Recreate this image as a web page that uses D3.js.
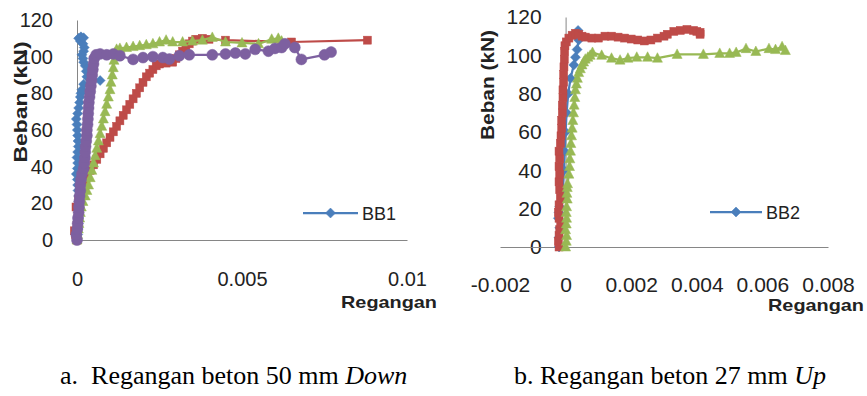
<!DOCTYPE html>
<html>
<head>
<meta charset="utf-8">
<script src="https://cdn.jsdelivr.net/npm/d3@7/dist/d3.min.js"></script>
<style>
  body { margin: 0; background: #fff; }
  svg { display: block; }
  .tick text { font-family: "Liberation Sans", Arial, sans-serif; fill: #222; }
</style>
</head>
<body>
<div id="chart"></div>
<script>
// Shared tick values
var yTicks = [0, 20, 40, 60, 80, 100, 120];
var xTicksA = [0, 0.005, 0.01];
var xTicksB = [-0.002, 0, 0.002, 0.004, 0.006, 0.008];

// Panel a: [strain, load kN]
var blueA = [[0,0],[0.00002,3],[0.00003,6],[0.00004,9],[0.00005,12],[0.00005,15],[0.00004,18],[0.00006,21],[0.00005,24],[0.00003,27],[0.00002,30],[0.00001,33],[-0.00002,36],[0.00001,39],[0.00002,42],[0,45],[0.00002,48],[0.00004,51],[0.00003,54],[0.00002,57],[0.00001,60],[0,63],[-0.00002,66],[0.00002,69],[0.00005,72],[0.00008,75],[0.0001,78],[0.00012,80],[0.00015,82],[0.0002,85],[0.0007,87],[0.0003,89],[0.00028,92],[0.00025,95],[0.0002,97],[0.00018,99],[0.00015,101],[0.0002,103],[0.00022,105],[0.00018,107],[0.0001,108.5],[0.00005,110],[0.00012,110.8],[0.0002,110.3]];
var redA = [[0,0],[-0.00005,3],[-0.00008,5],[0,8],[0.00003,12],[0.00005,16],[-0.00003,18],[0.00005,22],[0.0001,26],[0.00015,29],[0.0002,32],[0.0003,35],[0.0004,38],[0.0005,41],[0.0006,44],[0.0007,47],[0.0008,50],[0.0009,53],[0.001,56],[0.0011,59],[0.0012,62],[0.0013,65],[0.0014,68],[0.0015,71],[0.0016,74],[0.0017,77],[0.0018,80],[0.0019,83],[0.002,86],[0.0021,89],[0.0022,91],[0.0023,93],[0.0024,95],[0.0025,96],[0.0027,96.5],[0.0029,97],[0.003,99],[0.0031,101],[0.0032,103],[0.0033,105],[0.0034,107],[0.0035,108.5],[0.0036,109.5],[0.0038,110],[0.004,109.5],[0.0045,109],[0.0065,108],[0.0088,109]];
var greenA = [[0,0],[0.00002,3],[0.00004,6],[0.00006,9],[0.00008,12],[0.0001,15],[0.00013,18],[0.00018,21],[0.00025,24],[0.0003,27],[0.00035,30],[0.0004,34],[0.00045,38],[0.0005,42],[0.00055,46],[0.0006,50],[0.00065,54],[0.0007,58],[0.00075,62],[0.0008,66],[0.00085,70],[0.0009,74],[0.00095,78],[0.001,82],[0.00103,86],[0.00107,90],[0.0011,94],[0.00112,98],[0.00115,102],[0.0012,104],[0.0013,104.5],[0.0015,105],[0.0017,105.5],[0.0019,106],[0.0021,106.5],[0.0023,107],[0.0025,108],[0.0027,109],[0.0029,108],[0.0032,108],[0.0035,108.5],[0.0038,109],[0.0041,110.5],[0.0045,108],[0.005,107.5],[0.0055,107],[0.0059,109.5],[0.0061,110],[0.0062,108.5]];
var purpleA = [[0,0],[-0.00002,3],[0.00001,6],[0.00002,9],[0.00003,12],[0.00005,15],[0.00006,18],[0.00007,21],[0.00008,24],[0.0001,27],[0.0001,30],[0.00012,33],[0.00015,36],[0.0002,39],[0.00022,42],[0.00024,45],[0.00025,48],[0.00026,51],[0.00028,54],[0.0003,57],[0.0003,60],[0.00032,63],[0.00033,66],[0.00034,69],[0.00035,72],[0.00036,75],[0.00038,78],[0.0004,81],[0.00042,84],[0.00044,87],[0.00046,90],[0.00048,93],[0.0005,96],[0.00052,99],[0.00058,101],[0.0007,101.5],[0.0009,101],[0.0011,101.5],[0.0013,100.5],[0.0017,98.5],[0.002,99.5],[0.0023,100],[0.0026,99.5],[0.0028,98.7],[0.0031,100.5],[0.0034,101],[0.0041,101],[0.0045,101.5],[0.0048,102],[0.0051,101.5],[0.0054,104],[0.0058,103],[0.006,104.5],[0.0062,105],[0.0063,107],[0.0066,105],[0.0068,98.5],[0.0075,101],[0.0077,102.5]];

// Panel b: [strain, load kN]
var blueB = [[-0.0002,0],[-0.0002,5],[-0.00018,10],[-0.00022,15],[-0.0002,18],[-0.00018,21],[-0.0001,25],[-0.00008,30],[-0.00005,40],[-0.00003,50],[0,60],[0.00003,70],[0.00008,80],[0.00015,88],[0.00025,95],[0.0003,99],[0.00035,103],[0.0004,108],[0.00038,113]];
var redB = [[-0.0002,0],[-0.00022,3],[-0.0002,6],[-0.00018,9],[-0.00015,12],[-0.0002,15],[-0.00022,18],[-0.0002,22],[-0.00016,26],[-0.00018,30],[-0.0002,34],[-0.00018,38],[-0.0002,42],[-0.00018,46],[-0.0002,50],[-0.00016,54],[-0.00014,58],[-0.00012,62],[-0.00012,66],[-0.0001,70],[-0.0001,74],[-0.00008,78],[-0.00008,82],[-0.00006,86],[-0.00006,90],[-0.00005,94],[-0.00004,98],[-0.00003,102],[-0.00002,105],[0.00002,107],[0.0001,109],[0.0002,110.5],[0.0003,111.5],[0.0004,111],[0.0005,110],[0.0006,109.5],[0.0008,109],[0.001,109],[0.0012,110],[0.0014,110],[0.0016,109.5],[0.0018,109],[0.002,108.5],[0.0022,108],[0.0024,107.5],[0.0026,108],[0.0028,109],[0.003,110],[0.0031,111],[0.0033,112.5],[0.0035,113],[0.0037,113.5],[0.0039,113],[0.004,112.5],[0.0041,112],[0.0041,111]];
var greenB = [[0,0],[0.00002,3],[0.00003,6],[0,9],[0.00002,12],[0.00003,15],[0.00002,18],[0.00003,21],[0.00005,25],[0.00004,28],[0.00005,31],[0.00006,33],[0.0001,38],[0.00012,42],[0.00013,46],[0.00015,50],[0.00016,54],[0.00018,58],[0.0002,62],[0.00022,66],[0.00024,70],[0.00026,74],[0.00028,78],[0.0003,82],[0.00033,85],[0.00036,88],[0.0004,91],[0.00045,93],[0.0005,95],[0.00055,96.5],[0.0006,98],[0.00068,99],[0.00075,100],[0.00082,101.5],[0.0011,100],[0.0014,98.5],[0.00166,97.5],[0.0019,98.5],[0.00217,99],[0.0025,99],[0.0028,98.5],[0.0034,100.5],[0.0042,100.5],[0.0047,101],[0.005,101],[0.0052,101.5],[0.0055,103.5],[0.0058,102],[0.0062,103.5],[0.0064,103],[0.0066,104.5],[0.0067,102.5]];

var legendA = "BB1";
var legendB = "BB2";
var yTitle = "Beban (kN)";
var xTitle = "Regangan";

var colors = { blue: "#4a7ebb", red: "#be4b48", green: "#98b954", purple: "#7d60a0" };

var svg = d3.select("#chart").append("svg")
    .attr("width", 867)
    .attr("height", 396);

// Marker shapes, Excel style
function marker(g, shape, color) {
    if (shape == "diamond") {
        g.append("path").attr("d", "M0,-5L5,0L0,5L-5,0Z");
    } else if (shape == "square") {
        g.append("rect").attr("x", -4).attr("y", -4).attr("width", 8).attr("height", 8);
    } else if (shape == "triangle") {
        g.append("path").attr("d", "M0,-5.5L5,4L-5,4Z");
    } else {
        g.append("circle").attr("r", 5.5);
    }
    g.selectAll("*").attr("fill", color).attr("stroke", color).attr("stroke-width", 0.5);
}

function drawPanel(cfg) {
    var x = d3.scaleLinear().domain(cfg.xDomain).range(cfg.xRange);
    var y = d3.scaleLinear().domain([0, 120]).range(cfg.yRange);
    var g = svg.append("g");

    // y axis
    var yAxis = g.append("g")
        .attr("transform", "translate(" + x(0) + ",0)")
        .call(d3.axisLeft(y).tickValues(yTicks).tickSize(0).tickPadding(cfg.yPad));
    yAxis.select(".domain").attr("stroke", "#868686");
    yAxis.selectAll(".tick text").style("font-size", cfg.font + "px");

    // x axis, labels sit well below the line like the source
    var xAxis = g.append("g")
        .attr("transform", "translate(0," + y(0) + ")")
        .call(d3.axisBottom(x).tickValues(cfg.xTicks).tickSize(0).tickPadding(cfg.xPad)
            .tickFormat(function(d) { return String(d); }));
    xAxis.select(".domain").attr("stroke", "#868686");
    xAxis.selectAll(".tick text").style("font-size", cfg.font + "px");

    var line = d3.line()
        .x(function(d) { return x(d[0]); })
        .y(function(d) { return y(d[1]); });

    cfg.series.forEach(function(s) {
        g.append("path")
            .datum(s.data)
            .attr("fill", "none")
            .attr("stroke", s.color)
            .attr("stroke-width", 2.25)
            .attr("stroke-linejoin", "round")
            .attr("d", line);
        g.selectAll(null)
            .data(s.data)
            .enter()
            .append("g")
            .attr("transform", function(d) { return "translate(" + x(d[0]) + "," + y(d[1]) + ")"; })
            .each(function() { marker(d3.select(this), s.shape, s.color); });
    });

    // Axis titles
    g.append("text")
        .attr("transform", "translate(" + cfg.yTitle[0] + "," + cfg.yTitle[1] + ") rotate(-90)")
        .attr("text-anchor", "middle")
        .attr("textLength", cfg.yTitle[2])
        .attr("lengthAdjust", "spacingAndGlyphs")
        .style("font-family", "'Liberation Sans', Arial, sans-serif")
        .style("font-weight", "bold")
        .style("font-size", "19px")
        .style("fill", "#222")
        .text(yTitle);
    g.append("text")
        .attr("x", cfg.xTitle[0])
        .attr("y", cfg.xTitle[1])
        .attr("textLength", 96)
        .attr("lengthAdjust", "spacingAndGlyphs")
        .style("font-family", "'Liberation Sans', Arial, sans-serif")
        .style("font-weight", "bold")
        .style("font-size", "17px")
        .style("fill", "#222")
        .text(xTitle);

    // Legend (only first entry visible)
    var lg = g.append("g").attr("transform", "translate(" + cfg.legend[0] + "," + cfg.legend[1] + ")");
    lg.append("line").attr("x1", 0).attr("x2", cfg.legend[2])
        .attr("stroke", colors.blue).attr("stroke-width", 2.25);
    marker(lg.append("g").attr("transform", "translate(" + cfg.legend[2] / 2 + ",0)"), "diamond", colors.blue);
    lg.append("text")
        .attr("x", cfg.legend[2] + 4)
        .attr("y", 7)
        .style("font-family", "'Liberation Sans', Arial, sans-serif")
        .style("font-size", "18px")
        .style("fill", "#222")
        .text(cfg.legendText);
}

drawPanel({
    xDomain: [0, 0.01], xRange: [77, 407], yRange: [240, 20],
    xTicks: xTicksA, yPad: 24, xPad: 32, font: 20,
    yTitle: [27, 102, 121], xTitle: [341, 308],
    legend: [303, 213, 55], legendText: legendA,
    series: [
        { data: blueA, color: colors.blue, shape: "diamond" },
        { data: redA, color: colors.red, shape: "square" },
        { data: greenA, color: colors.green, shape: "triangle" },
        { data: purpleA, color: colors.purple, shape: "circle" }
    ]
});

drawPanel({
    xDomain: [-0.002, 0.008], xRange: [500, 828], yRange: [247, 17],
    xTicks: xTicksB, yPad: 24, xPad: 30, font: 21,
    yTitle: [494, 85, 110], xTitle: [768, 311],
    legend: [710, 212, 52], legendText: legendB,
    series: [
        { data: blueB, color: colors.blue, shape: "diamond" },
        { data: redB, color: colors.red, shape: "square" },
        { data: greenB, color: colors.green, shape: "triangle" }
    ]
});

// Figure captions
var captions = [
    { x: 60, text: "a.\u00a0 Regangan beton 50 mm ", italic: "Down" },
    { x: 514, text: "b. Regangan beton 27 mm ", italic: "Up" }
];
captions.forEach(function(c) {
    var t = svg.append("text")
        .attr("x", c.x)
        .attr("y", 384)
        .style("font-family", "'Liberation Serif', 'Times New Roman', serif")
        .style("font-size", "26px")
        .style("fill", "#000");
    t.append("tspan").text(c.text);
    t.append("tspan").style("font-style", "italic").text(c.italic);
});
</script>
</body>
</html>
